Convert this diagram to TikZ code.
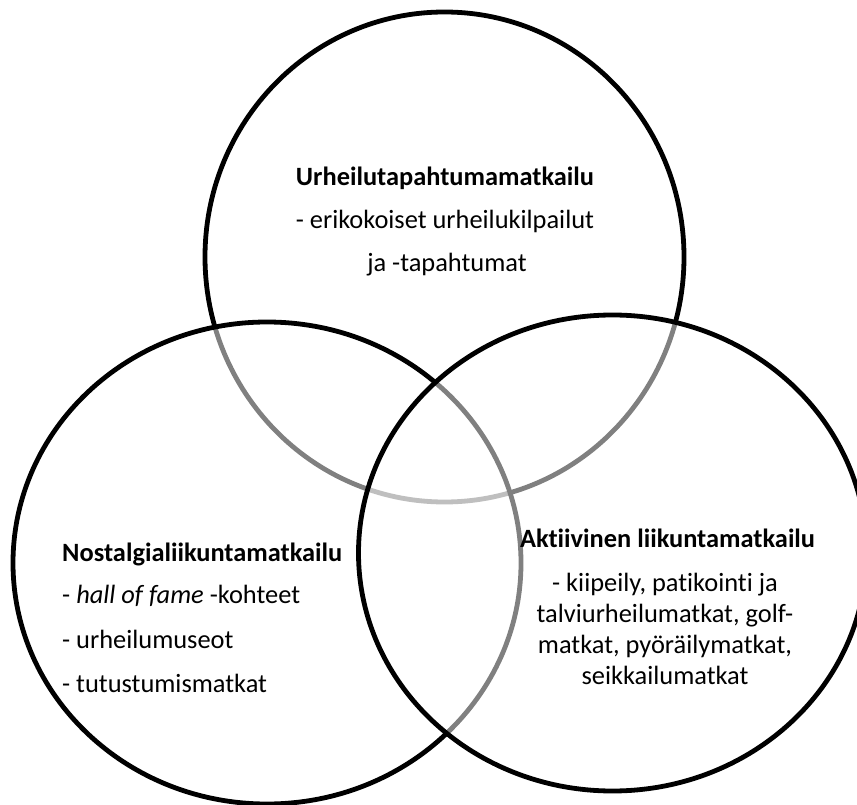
\documentclass[tikz,border=0pt]{standalone}
\usepackage{fontspec}
\setmainfont{Carlito}[Ligatures={NoCommon}]
\begin{document}
\begin{tikzpicture}[x=1pt,y=-1pt,
  venn/.style={draw=black,line width=4.8pt,fill=white,fill opacity=0.5,draw opacity=1},
  lbl/.style={inner sep=0pt,font=\fontsize{26.4}{31}\selectfont},
  ttl/.style={lbl,font=\fontsize{26.4}{31}\selectfont\bfseries}]
\useasboundingbox (0,0) rectangle (857,805);
\begin{scope}
\clip (0,0) rectangle (857,805);
\draw[venn,fill opacity=1] (444.5,257) ellipse [x radius=239.5, y radius=245];
\draw[venn] (267,563) ellipse [x radius=254, y radius=241];
\draw[venn] (612.5,553) ellipse [x radius=254, y radius=238];
\end{scope}
% top circle
\node[ttl] (t1) at (445,178) {Urheilutapahtumamatkailu};
\node[lbl] (t2) at (445,221) {- erikokoiset urheilukilpailut};
\node[lbl] (t3) at (447,265) {ja -tapahtumat};
% left circle
\node[ttl,anchor=west] (l1) at (62,554) {Nostalgialiikuntamatkailu};
\node[lbl,anchor=west] (l2) at (62,596) {- \textit{hall of fame} -kohteet};
\node[lbl,anchor=west] (l3) at (62,639) {- urheilumuseot};
\node[lbl,anchor=west] (l4) at (62,683) {- tutustumismatkat};
% right circle
\node[ttl] (r1) at (667.5,538) {Aktiivinen liikuntamatkailu};
\node[lbl,align=center] (r2) at (665,629) {- kiipeily, patikointi ja\\talviurheilumatkat, golf-\\matkat, pyöräilymatkat,\\seikkailumatkat};
\end{tikzpicture}
\end{document}
